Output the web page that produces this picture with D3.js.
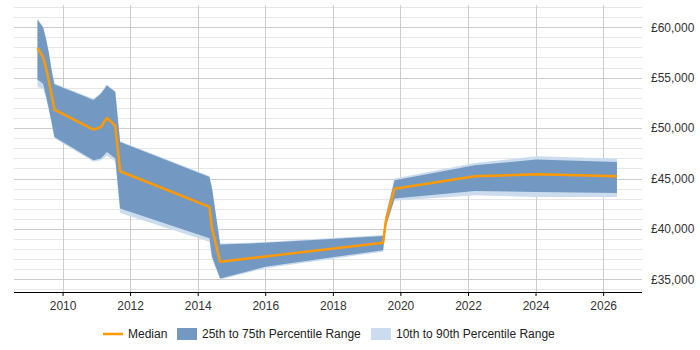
<!DOCTYPE html>
<html>
<head>
<meta charset="utf-8">
<script src="https://cdn.jsdelivr.net/npm/d3@7"></script>
<style>
  body { margin: 0; background: #fff; }
  svg { display: block; font-family: "Liberation Sans", Arial, sans-serif; }
</style>
</head>
<body>
<svg id="container" width="700" height="350"></svg>
<script>
// dates of each sample, then the percentiles
const dates = ['2009-04-05', '2009-05-05', '2009-06-05', '2009-07-05', '2009-08-05', '2009-09-05',
  '2009-10-05', '2010-12-01', '2011-02-20', '2011-04-25', '2011-07-25', '2011-09-15',
  '2014-05-08', '2014-06-05', '2014-09-01', '2016-01-01', '2019-06-28', '2019-07-28',
  '2019-10-30', '2022-03-15', '2024-01-10', '2026-05-30'];
const median = [57940, 57500, 57000, 56000, 54700, 53250, 51830, 49850, 50110, 51000, 50210, 45720,
  42190, 40050, 36740, 37280, 38640, 40800, 43990, 45220, 45420, 45220];
const p75 = [60730, 60360, 59970, 58880, 57500, 55700, 54340, 52790, 53410, 54230, 53570, 48620,
  45150, 43990, 38460, 38620, 39290, 41300, 44830, 46310, 46880, 46640];
const p25 = [54800, 54620, 54400, 53240, 51950, 50570, 49110, 46800, 46980, 47630, 46980, 42030,
  39090, 37240, 35100, 36250, 37900, 40300, 43020, 43770, 43670, 43570];
const p10 = [54060, 53980, 53900, 53000, 51750, 50400, 49000, 46650, 46800, 47250, 46700, 41590,
  38720, 37000, 35000, 36100, 37750, 40100, 42790, 43340, 43170, 43170];
const p90 = [60800, 60420, 60020, 58950, 57580, 55780, 54420, 52900, 53500, 54330, 53650, 48700,
  45250, 44100, 38550, 38700, 39400, 41500, 45000, 46540, 47200, 46980];

const xTickYears = [2010, 2012, 2014, 2016, 2018, 2020, 2022, 2024, 2026];
const yTicks = [35000, 40000, 45000, 50000, 55000, 60000];
const legendLabels = ['Median', '25th to 75th Percentile Range', '10th to 90th Percentile Range'];

const orange = '#ff9900';
const darkBlue = '#7399c2';
const lightBlue = '#cbdcee';

const svg = d3.select('#container');
const plotLeft = 14, plotRight = 642, plotTop = 5, plotBottom = 292;

const parse = d3.timeParse('%Y-%m-%d');
const rows = dates.map((d, i) => ({
  date: parse(d), median: median[i], p25: p25[i], p75: p75[i], p10: p10[i], p90: p90[i]
}));

const x = d3.scaleTime()
  .domain([new Date(2008, 6, 25), new Date(2027, 1, 25)])
  .range([plotLeft, plotRight]);
const y = d3.scaleLinear()
  .domain([33750, 62200])
  .range([plotBottom, plotTop]);

// grid
const grid = svg.append('g');
grid.selectAll('line.minor')
  .data(d3.range(34000, 62001, 1000).filter(v => v % 5000 !== 0))
  .enter()
  .append('line')
  .attr('x1', plotLeft).attr('x2', plotRight)
  .attr('y1', d => Math.round(y(d)) + 0.5).attr('y2', d => Math.round(y(d)) + 0.5)
  .attr('stroke', '#e6e6e6');
grid.selectAll('line.major')
  .data(yTicks)
  .enter()
  .append('line')
  .attr('x1', plotLeft).attr('x2', plotRight)
  .attr('y1', d => Math.round(y(d)) + 0.5).attr('y2', d => Math.round(y(d)) + 0.5)
  .attr('stroke', '#cccccc');
grid.selectAll('line.vert')
  .data(xTickYears)
  .enter()
  .append('line')
  .attr('x1', d => Math.round(x(new Date(d, 0, 1))) + 0.5)
  .attr('x2', d => Math.round(x(new Date(d, 0, 1))) + 0.5)
  .attr('y1', plotTop).attr('y2', plotBottom)
  .attr('stroke', '#cccccc');

// bands + median
const outer = d3.area().x(d => x(d.date)).y0(d => y(d.p10)).y1(d => y(d.p90));
const inner = d3.area().x(d => x(d.date)).y0(d => y(d.p25)).y1(d => y(d.p75));
const line = d3.line().x(d => x(d.date)).y(d => y(d.median));

svg.append('path').datum(rows).attr('d', outer).attr('fill', lightBlue);
svg.append('path').datum(rows).attr('d', inner).attr('fill', darkBlue);
svg.append('path').datum(rows).attr('d', line)
  .attr('fill', 'none')
  .attr('stroke', orange)
  .attr('stroke-width', 2.5)
  .attr('stroke-linejoin', 'round');

// x axis
const xAxis = d3.axisBottom(x)
  .tickValues(xTickYears.map(yr => new Date(yr, 0, 1)))
  .tickFormat(d3.timeFormat('%Y'))
  .tickSize(4)
  .tickSizeOuter(0);
const gx = svg.append('g')
  .attr('transform', `translate(0,${plotBottom})`)
  .call(xAxis);
gx.select('.domain').attr('d', `M${plotLeft},0.5H${plotRight}`).attr('stroke', '#000');
gx.selectAll('.tick line').attr('stroke', '#000');
gx.selectAll('.tick text')
  .attr('font-size', 12)
  .attr('font-family', '"Liberation Sans", Arial, sans-serif')
  .attr('fill', '#333')
  .attr('dy', '0.95em');

// y axis on the right
const yAxis = d3.axisRight(y)
  .tickValues(yTicks)
  .tickFormat(v => '£' + d3.format(',')(v))
  .tickSize(0);
const gy = svg.append('g')
  .attr('transform', `translate(${plotRight},0)`)
  .call(yAxis);
gy.select('.domain').remove();
gy.selectAll('.tick text')
  .attr('x', 9)
  .attr('font-size', 12)
  .attr('font-family', '"Liberation Sans", Arial, sans-serif')
  .attr('fill', '#333');

// legend
const legend = svg.append('g').attr('transform', 'translate(0,334)');
legend.append('line')
  .attr('x1', 103).attr('x2', 123).attr('y1', 0).attr('y2', 0)
  .attr('stroke', orange).attr('stroke-width', 2.5);
legend.append('rect').attr('x', 177).attr('y', -6).attr('width', 20).attr('height', 12).attr('fill', darkBlue);
legend.append('rect').attr('x', 371).attr('y', -6).attr('width', 20).attr('height', 12).attr('fill', lightBlue);
legend.selectAll('text')
  .data(legendLabels)
  .enter()
  .append('text')
  .attr('x', (d, i) => [128, 202, 396][i])
  .attr('y', 0)
  .attr('dy', '0.35em')
  .attr('font-size', 12)
  .attr('fill', '#222')
  .text(d => d);
</script>
</body>
</html>
